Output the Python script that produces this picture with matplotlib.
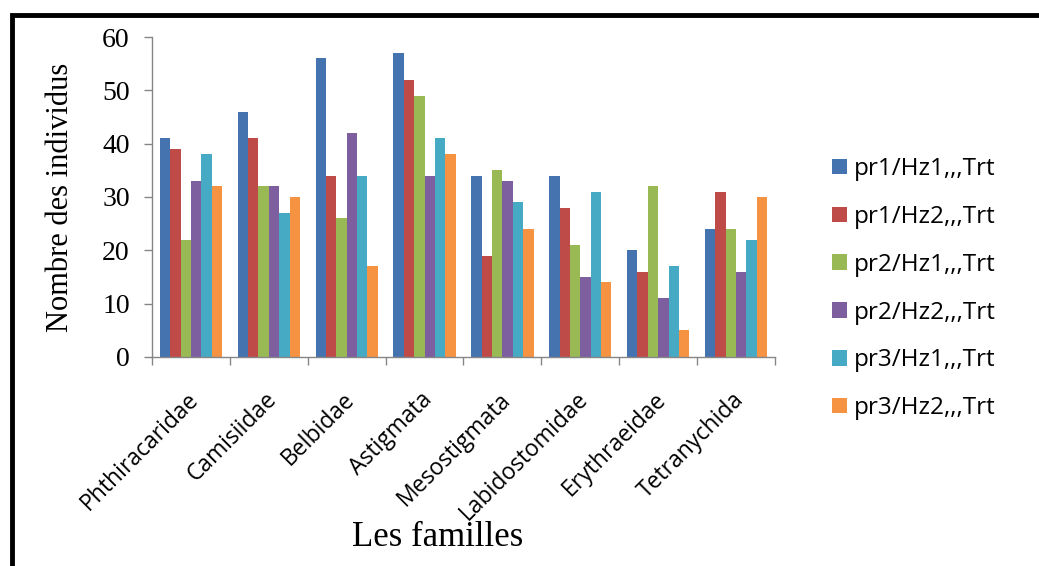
import numpy as np
import matplotlib
matplotlib.use('Agg')
import matplotlib.pyplot as plt
from matplotlib.patches import Rectangle

# Familles d'acariens et effectifs par prélèvement / horizon
familles = ['Phthiracaridae', 'Camisiidae', 'Belbidae', 'Astigmata',
            'Mesostigmata', 'Labidostomidae', 'Erythraeidae', 'Tetranychida']
series = ['pr1/Hz1,,,Trt', 'pr1/Hz2,,,Trt', 'pr2/Hz1,,,Trt',
          'pr2/Hz2,,,Trt', 'pr3/Hz1,,,Trt', 'pr3/Hz2,,,Trt']

pr1_hz1 = [41, 46, 56, 57, 34, 34, 20, 24]
pr1_hz2 = [39, 41, 34, 52, 19, 28, 16, 31]
pr2_hz1 = [22, 32, 26, 49, 35, 21, 32, 24]
pr2_hz2 = [33, 32, 42, 34, 33, 15, 11, 16]
pr3_hz1 = [38, 27, 34, 41, 29, 31, 17, 22]
pr3_hz2 = [32, 30, 17, 38, 24, 14, 5, 30]
valeurs = [pr1_hz1, pr1_hz2, pr2_hz1, pr2_hz2, pr3_hz1, pr3_hz2]

couleurs = ['#4573b0', '#be4b48', '#98b954', '#7d5fa0', '#46aac5', '#f59343']

fig = plt.figure(figsize=(10.39, 5.66), dpi=100)
ax = fig.add_axes([0.1463, 0.3693, 0.5996, 0.5653])

x = np.arange(len(familles))
largeur = 0.8 / len(series)
for i, (nom, val) in enumerate(zip(series, valeurs)):
    ax.bar(x - 0.4 + largeur * (i + 0.5), val, largeur, color=couleurs[i],
           label=nom, linewidth=0)

ax.set_xlim(-0.5, len(familles) - 0.5)
ax.set_ylim(0, 60)
ax.set_yticks(range(0, 61, 10))
ax.set_yticklabels([str(v) for v in range(0, 61, 10)],
                   fontfamily='Liberation Serif', fontsize=20)

# graduations entre les catégories
ax.set_xticks(x - 0.05)
ax.set_xticklabels(familles, rotation=45, ha='right', rotation_mode='anchor',
                   fontfamily='Open Sans', fontsize=16.5)
ax.set_xticks(np.arange(-0.5, len(familles), 1), minor=True)
ax.tick_params(axis='x', which='major', length=0, pad=22)
ax.tick_params(axis='x', which='minor', length=6, color='#868686', width=1)
ax.tick_params(axis='y', length=6, color='#868686', width=1, pad=10)

for s in ['top', 'right']:
    ax.spines[s].set_visible(False)
for s in ['left', 'bottom']:
    ax.spines[s].set_color('#868686')
    ax.spines[s].set_linewidth(1)

ax.set_ylabel('Nombre des individus', fontfamily='Liberation Serif', fontsize=22)
ax.yaxis.set_label_coords(-0.124, 0.5)
fig.text(0.421, 0.05, 'Les familles', fontfamily='Liberation Serif',
         fontsize=25, ha='center', va='center')

fig.legend(loc='center left', bbox_to_anchor=(0.78, 0.49), frameon=False,
           prop={'family': 'Open Sans', 'size': 17.5}, handlelength=0.6,
           handleheight=0.6, handletextpad=0.3, labelspacing=0.98)

# cadre noir autour de la figure
fig.patches.append(Rectangle((12 / 1039, -0.1), 1.2, (566 - 15) / 566 + 0.1,
                             transform=fig.transFigure, fill=False,
                             edgecolor='black', linewidth=3.5))

fig.savefig('out.png', dpi=100)
